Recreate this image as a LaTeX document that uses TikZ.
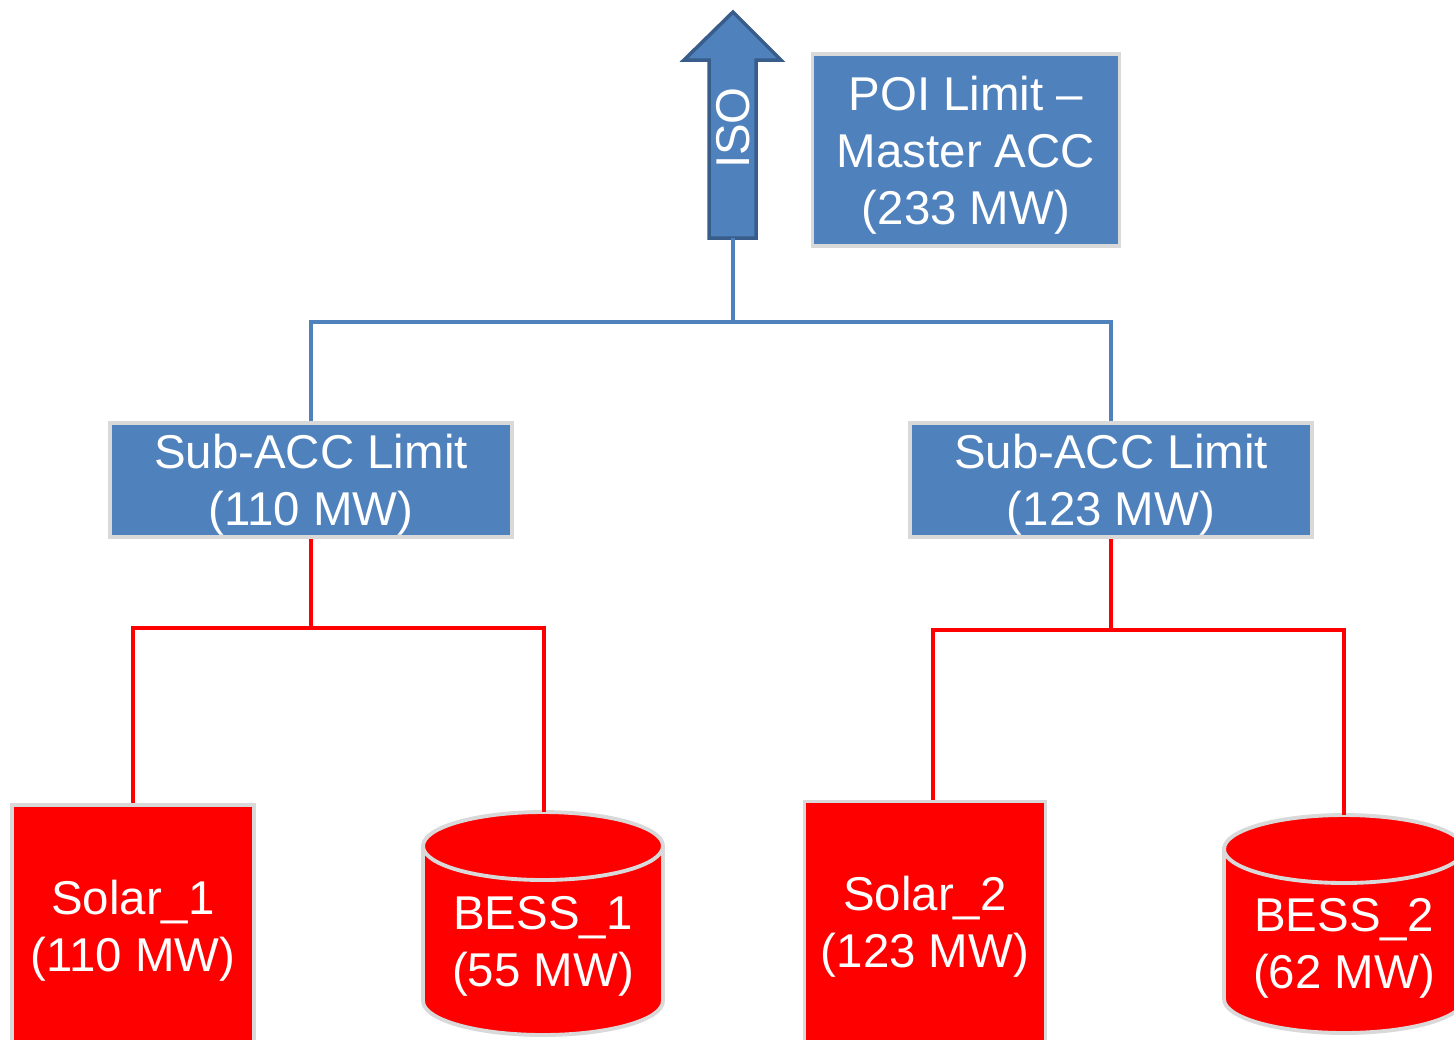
\documentclass[tikz,border=0pt]{standalone}
\usepackage{fontspec}
\setmainfont{Liberation Sans}
\definecolor{accblue}{HTML}{4F81BD}
\definecolor{arrowedge}{HTML}{385D8A}
\definecolor{edgegray}{HTML}{D9D9D9}
\definecolor{unitred}{HTML}{FF0000}
\newcommand\labelfont{\fontsize{27}{32.5}\selectfont}

\begin{document}
\begin{tikzpicture}[x=0.02cm,y=-0.02cm,line join=miter,
    limitbox/.style={draw=edgegray,line width=2.2pt,fill=accblue,text=white,
      align=center,inner sep=0pt,text depth=0pt,font=\labelfont},
    unitbox/.style={draw=edgegray,line width=2.2pt,fill=unitred,text=white,
      align=center,inner sep=0pt,text depth=0pt,font=\labelfont},
    cyltext/.style={text=white,align=center,text depth=0pt,font=\labelfont},
    cyl/.style={draw=edgegray,line width=2.2pt,fill=unitred},
    bluewire/.style={draw=accblue,line width=2.3pt},
    redwire/.style={draw=unitred,line width=2.8pt}]

  % Frame
  \useasboundingbox (0,0) rectangle (1454,1039);
  \clip (0,0) rectangle (1454,1039);

  % ISO arrow
  \filldraw[fill=accblue,draw=arrowedge,line width=2pt]
    (709,238) -- (709,60) -- (684,60) -- (733,12) -- (781,60) -- (756,60) -- (756,238) -- cycle;
  \node[rotate=90,text=white,font=\labelfont] (iso) at (733,128) {ISO};
  \coordinate (isobase) at (733,238);

  % Limits
  \node[limitbox,minimum width=6.14cm,minimum height=3.84cm] (poi) at (966,150)
    {POI Limit –\\Master ACC\\(233 MW)};
  \node[limitbox,minimum width=8.04cm,minimum height=2.28cm] (sub1) at (311,480)
    {Sub-ACC Limit\\(110 MW)};
  \node[limitbox,minimum width=8.04cm,minimum height=2.28cm] (sub2) at (1111,480)
    {Sub-ACC Limit\\(123 MW)};

  % Solar units
  \node[unitbox,minimum width=4.84cm,minimum height=4.84cm] (solar1) at (133,926)
    {Solar\_1\\(110 MW)};
  \node[unitbox,minimum width=4.82cm,minimum height=4.82cm] (solar2) at (925,922)
    {Solar\_2\\(123 MW)};

  % Batteries
  \filldraw[cyl] (423,846) -- (423,1001)
    arc[start angle=180,end angle=360,x radius=2.4cm,y radius=0.68cm]
    -- (663,846) arc[start angle=0,end angle=180,x radius=2.4cm,y radius=0.68cm] -- cycle;
  \draw[draw=edgegray,line width=2.2pt] (423,846)
    arc[start angle=180,end angle=360,x radius=2.4cm,y radius=0.68cm];
  \node[cyltext] (bess1) at (543,941) {BESS\_1\\(55 MW)};
  \coordinate (bess1top) at (544,812);

  \filldraw[cyl] (1224,849) -- (1224,999)
    arc[start angle=180,end angle=360,x radius=2.4cm,y radius=0.68cm]
    -- (1464,849) arc[start angle=0,end angle=180,x radius=2.4cm,y radius=0.68cm] -- cycle;
  \draw[draw=edgegray,line width=2.2pt] (1224,849)
    arc[start angle=180,end angle=360,x radius=2.4cm,y radius=0.68cm];
  \node[cyltext] (bess2) at (1344,943) {BESS\_2\\(62 MW)};
  \coordinate (bess2top) at (1344,815);

  % Blue feeders
  \coordinate (bluebus) at (733,322);
  \draw[bluewire] (isobase) -- (bluebus);
  \draw[bluewire] (sub1.north) |- (bluebus) -| (sub2.north);

  % Red feeders
  \coordinate (redbus1) at (311,628);
  \coordinate (redbus2) at (1111,630);
  \draw[redwire] (sub1.south) -- (redbus1);
  \draw[redwire] (solar1.north) |- (redbus1) -| (bess1top);
  \draw[redwire] (sub2.south) -- (redbus2);
  \draw[redwire] ([xshift=0.16cm]solar2.north) |- (redbus2) -| (bess2top);
\end{tikzpicture}
\end{document}
